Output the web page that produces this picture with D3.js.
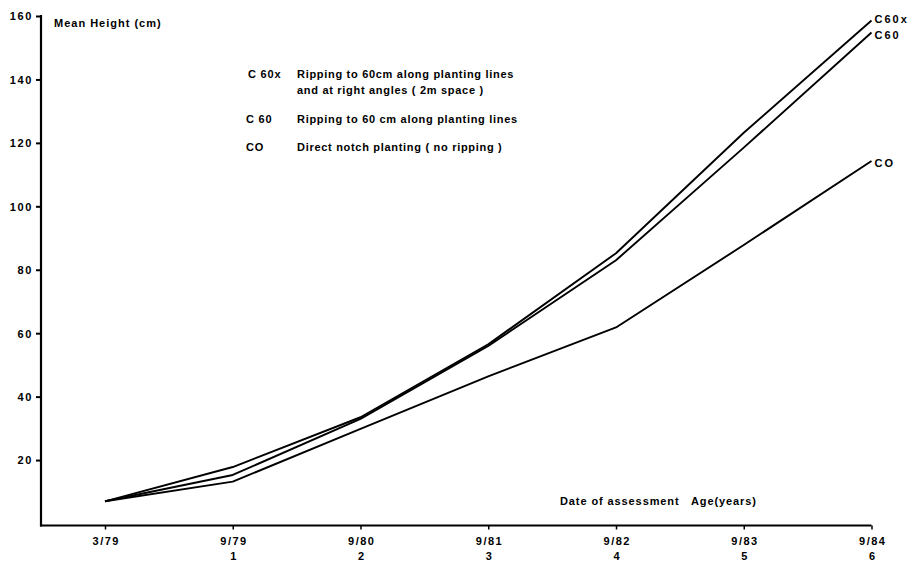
<!DOCTYPE html>
<html>
<head>
<meta charset="utf-8">
<script src="https://cdn.jsdelivr.net/npm/d3@7"></script>
<style>
  html, body { margin: 0; padding: 0; background: #fff; }
  svg { display: block; }
  text { font-family: "Liberation Sans", Arial, Helvetica, sans-serif; fill: #000; }
</style>
</head>
<body>
<svg id="chart" width="909" height="565"></svg>
<script>
// ---- Data ----
const dates = ["3/79", "9/79", "9/80", "9/81", "9/82", "9/83", "9/84"];
const ages  = ["", "1", "2", "3", "4", "5", "6"];
const yTicks = [20, 40, 60, 80, 100, 120, 140, 160];
const c60x = [7, 17.8, 33.5, 56.5, 85.2, 123.2, 158.6];
const c60  = [7, 15.3, 33, 56, 83, 118.5, 154.8];
const co   = [7, 13.2, 29.8, 46.4, 61.8, 87.8, 114.3];
const seriesNames = ["C60x", "C60", "CO"];
const legendCodes = ["C 60x", "C 60", "CO"];
const legendTexts = [
  ["Ripping to 60cm along planting lines", "and at right angles ( 2m space )"],
  ["Ripping to 60 cm along planting lines"],
  ["Direct notch planting ( no ripping )"]
];

// ---- Chart ----
const svg = d3.select("#chart");
const x = d3.scalePoint().domain(dates).range([105, 871.5]);
const y = d3.scaleLinear().domain([0, 160]).range([523.5, 16]);
const axisX0 = 41;
const axisY0 = y(0) + 2;

// Y axis
const yAxis = d3.axisLeft(y).tickValues(yTicks).tickSize(5).tickPadding(3).tickFormat(d3.format("d"));
const gy = svg.append("g").attr("transform", `translate(${axisX0},0)`).call(yAxis);
gy.select(".domain").remove();
gy.selectAll(".tick line").attr("stroke", "#000").attr("stroke-width", 2);
gy.selectAll(".tick text").attr("font-size", 11).attr("font-weight", "bold")
  .attr("letter-spacing", 1.6).attr("dy", "0.35em");
svg.append("line").attr("x1", axisX0).attr("x2", axisX0).attr("y1", y(160) - 1).attr("y2", axisY0 + 1)
  .attr("stroke", "#000").attr("stroke-width", 2.2);

// X axis
const xAxis = d3.axisBottom(x).tickSize(4).tickPadding(8);
const gx = svg.append("g").attr("transform", `translate(0,${axisY0})`).call(xAxis);
gx.select(".domain").remove();
gx.selectAll(".tick line").attr("stroke", "#000").attr("stroke-width", 1.5);
gx.selectAll(".tick text").attr("font-size", 11).attr("font-weight", "bold")
  .attr("letter-spacing", 1.5).attr("dx", 0.75);
gx.selectAll(".tick").append("text")
  .attr("y", 27).attr("dy", "0.71em")
  .attr("font-size", 11).attr("font-weight", "bold")
  .attr("text-anchor", "middle")
  .text((d, i) => ages[i]);
svg.append("line").attr("x1", axisX0 - 1).attr("x2", x(dates[dates.length - 1])).attr("y1", axisY0).attr("y2", axisY0)
  .attr("stroke", "#000").attr("stroke-width", 2);

// Lines
const allSeries = [c60x, c60, co];
const line = d3.line().x((d, i) => x(dates[i])).y(d => y(d));
allSeries.forEach(s => {
  svg.append("path").datum(s).attr("d", line)
    .attr("fill", "none").attr("stroke", "#000").attr("stroke-width", 1.9)
    .attr("stroke-linejoin", "round");
});

// End labels
const endOffsets = [-1, 3, 2];
allSeries.forEach((s, k) => {
  svg.append("text")
    .attr("x", x(dates[dates.length - 1]) + 3)
    .attr("y", y(s[s.length - 1]) + endOffsets[k])
    .attr("dy", "0.35em")
    .attr("font-size", 11).attr("font-weight", "bold").attr("letter-spacing", 2)
    .text(seriesNames[k]);
});

// Y title
svg.append("text").attr("x", 54).attr("y", 27).attr("font-size", 11).attr("letter-spacing", 1)
  .attr("font-weight", "bold").text("Mean Height (cm)");

// Legend
const legendRows = [74, 119, 147];
legendCodes.forEach((c, k) => {
  svg.append("text").attr("x", k === 0 ? 248 : 246).attr("y", legendRows[k]).attr("dy", "0.35em")
    .attr("font-size", 11).attr("font-weight", "bold").attr("letter-spacing", 0.8).text(c);
  legendTexts[k].forEach((t, j) => {
    svg.append("text").attr("x", 297).attr("y", legendRows[k] + j * 16).attr("dy", "0.35em")
      .attr("font-size", 11).attr("font-weight", "bold").attr("letter-spacing", 0.7).text(t);
  });
});

// X title
svg.append("text").attr("x", 560).attr("y", 501).attr("dy", "0.35em")
  .attr("font-size", 11).attr("font-weight", "bold").attr("letter-spacing", 0.9)
  .style("white-space", "pre")
  .text("Date of assessment   Age(years)");
</script>
</body>
</html>
